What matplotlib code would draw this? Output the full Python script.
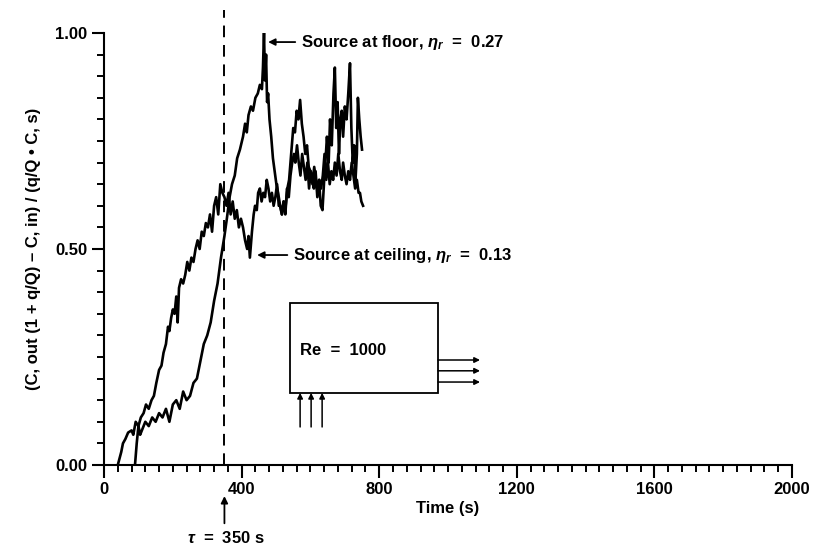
#!/usr/bin/env python3
"""Normalized exhaust concentration vs time, source at floor and at ceiling."""

import numpy as np
import matplotlib
matplotlib.use("Agg")
import matplotlib.pyplot as plt
from matplotlib.ticker import FixedLocator

plt.rcParams['font.family'] = ['Liberation Sans', 'DejaVu Sans']
plt.rcParams['font.weight'] = 'bold'
plt.rcParams['axes.labelweight'] = 'bold'
plt.rcParams['mathtext.fontset'] = 'custom'
plt.rcParams['mathtext.it'] = 'Liberation Sans:italic:bold'
plt.rcParams['mathtext.rm'] = 'Liberation Sans:bold'

# source at ceiling (eta_r = 0.13)
t_ceiling = [40, 50, 55, 62, 70, 80, 85, 92, 100, 107, 115, 122, 130, 138, 145, 152,
             160, 167, 173, 180, 186, 190, 195, 200, 205, 210, 214, 218, 224, 230,
             236, 242, 248, 254, 260, 266, 272, 278, 284, 290, 296, 302, 308, 314,
             320, 326, 332, 338, 344, 350, 356, 362, 368, 374, 380, 386, 392, 398,
             404, 410, 416, 420, 424, 430, 435, 439, 444, 448, 453, 458, 463, 468,
             473, 478, 483, 488, 493, 498, 503, 508, 512, 517, 522, 527, 532, 537,
             542, 547, 552, 556, 561, 566, 571, 576, 581, 586, 591, 596, 601, 606,
             611, 616, 621, 626, 631, 636, 641, 646, 651, 656, 661, 666, 671, 676,
             681, 686, 691, 695, 700, 705, 710, 715, 720, 725, 730, 735, 740, 744,
             748, 753]
c_ceiling = [0.00, 0.03, 0.05, 0.06, 0.075, 0.08, 0.07, 0.10, 0.09, 0.11, 0.12, 0.14,
             0.13, 0.15, 0.16, 0.19, 0.22, 0.23, 0.26, 0.28, 0.32, 0.31, 0.34, 0.36,
             0.35, 0.39, 0.33, 0.41, 0.43, 0.42, 0.44, 0.47, 0.45, 0.48, 0.47, 0.50,
             0.52, 0.50, 0.54, 0.53, 0.56, 0.55, 0.58, 0.54, 0.60, 0.62, 0.58, 0.65,
             0.63, 0.62, 0.60, 0.63, 0.58, 0.61, 0.57, 0.59, 0.55, 0.57, 0.55, 0.52,
             0.50, 0.53, 0.48, 0.54, 0.58, 0.60, 0.59, 0.63, 0.64, 0.61, 0.63, 0.62,
             0.66, 0.64, 0.61, 0.63, 0.60, 0.62, 0.65, 0.60, 0.60, 0.58, 0.61, 0.58,
             0.64, 0.62, 0.67, 0.70, 0.72, 0.70, 0.74, 0.70, 0.67, 0.72, 0.69, 0.66,
             0.70, 0.64, 0.68, 0.65, 0.69, 0.66, 0.63, 0.66, 0.64, 0.67, 0.72, 0.66,
             0.70, 0.65, 0.68, 0.66, 0.70, 0.67, 0.72, 0.68, 0.66, 0.70, 0.67, 0.65,
             0.68, 0.66, 0.70, 0.67, 0.64, 0.66, 0.63, 0.63, 0.61, 0.60]

# source at floor (eta_r = 0.27)
t_floor = [90, 95, 100, 105, 110, 120, 130, 140, 150, 160, 170, 180, 190, 200, 210,
           220, 230, 240, 250, 260, 270, 280, 290, 300, 310, 320, 330, 340, 350, 357,
           365, 372, 380, 387, 395, 404, 410, 415, 420, 427, 433, 440, 447, 453, 459,
           462, 465, 468, 471, 474, 477, 481, 486, 491, 496, 501, 506, 512, 517, 522,
           528, 533, 538, 544, 550, 555, 560, 565, 570, 575, 580, 585, 590, 595, 600,
           605, 610, 615, 620, 625, 630, 635, 640, 645, 648, 653, 657, 662, 667, 671,
           675, 679, 683, 687, 691, 695, 700, 705, 710, 715, 719, 723, 727, 731, 735,
           738, 742, 746, 750]
c_floor = [0.00, 0.05, 0.09, 0.07, 0.08, 0.10, 0.09, 0.11, 0.10, 0.12, 0.11, 0.13,
           0.10, 0.14, 0.15, 0.13, 0.17, 0.15, 0.16, 0.19, 0.20, 0.24, 0.28, 0.30,
           0.33, 0.38, 0.42, 0.48, 0.53, 0.57, 0.62, 0.65, 0.67, 0.71, 0.73, 0.76,
           0.79, 0.77, 0.81, 0.83, 0.82, 0.85, 0.86, 0.88, 0.87, 0.92, 1.00, 0.89,
           0.95, 0.84, 0.86, 0.80, 0.76, 0.71, 0.68, 0.65, 0.63, 0.60, 0.58, 0.61,
           0.60, 0.64, 0.66, 0.72, 0.78, 0.77, 0.82, 0.80, 0.845, 0.79, 0.76, 0.72,
           0.74, 0.69, 0.68, 0.66, 0.64, 0.68, 0.62, 0.66, 0.60, 0.59, 0.66, 0.72,
           0.76, 0.70, 0.80, 0.74, 0.86, 0.92, 0.78, 0.84, 0.72, 0.80, 0.82, 0.76,
           0.83, 0.80, 0.86, 0.93, 0.78, 0.70, 0.74, 0.66, 0.72, 0.85, 0.80, 0.76,
           0.73]

tau = 350

fig = plt.figure(figsize=(8.27, 5.48), dpi=100)
ax = fig.add_axes([0.1258, 0.1515, 0.8319, 0.7883])

ax.plot(t_ceiling, c_ceiling, color='black', lw=1.9)
ax.plot(t_floor, c_floor, color='black', lw=1.9)

# time constant marker
ax.plot([tau, tau], [0, 1.053], color='black', lw=1.4, ls=(0, (6, 4)), clip_on=False)
ax.annotate('', xy=(tau, -0.072), xytext=(tau, -0.135), xycoords='data',
            arrowprops=dict(arrowstyle='-|>', color='black', lw=1.3,
                            mutation_scale=10, shrinkA=0, shrinkB=0),
            annotation_clip=False)
ax.text(tau + 5, -0.17, r'$\tau$  =  350 s', ha='center', va='center',
        fontsize=12, clip_on=False)

# curve labels
ax.annotate(r'Source at floor, $\eta_r$  =  0.27', xy=(477, 0.979),
            xytext=(572, 0.979), va='center', fontsize=12,
            arrowprops=dict(arrowstyle='-|>', color='black', lw=1.3,
                            mutation_scale=10, shrinkA=2, shrinkB=0))
ax.annotate(r'Source at ceiling, $\eta_r$  =  0.13', xy=(445, 0.486),
            xytext=(549, 0.486), va='center', fontsize=12,
            arrowprops=dict(arrowstyle='-|>', color='black', lw=1.3,
                            mutation_scale=10, shrinkA=2, shrinkB=0))

# room sketch
ax.add_patch(plt.Rectangle((541, 0.167), 430, 0.208, fill=False, ec='black', lw=1.3))
ax.text(570, 0.266, 'Re  =  1000', ha='left', va='center', fontsize=12)
for y_out in [0.243, 0.218, 0.192]:
    ax.annotate('', xy=(1093, y_out), xytext=(971, y_out),
                arrowprops=dict(arrowstyle='-|>', color='black', lw=1.1,
                                mutation_scale=8, shrinkA=0, shrinkB=0))
for x_in in [570, 602, 634]:
    ax.annotate('', xy=(x_in, 0.167), xytext=(x_in, 0.088),
                arrowprops=dict(arrowstyle='-|>', color='black', lw=1.1,
                                mutation_scale=8, shrinkA=0, shrinkB=0))

ax.set_xlim(0, 2000)
ax.set_ylim(0, 1.0)
ax.xaxis.set_major_locator(FixedLocator([0, 400, 800, 1200, 1600, 2000]))
ax.xaxis.set_minor_locator(FixedLocator(np.arange(40, 2000, 40)))
ax.yaxis.set_major_locator(FixedLocator([0, 0.5, 1.0]))
ax.yaxis.set_minor_locator(FixedLocator(np.arange(0.05, 1.0, 0.05)))
ax.set_yticklabels(['0.00', '0.50', '1.00'])

for s in ['top', 'right']:
    ax.spines[s].set_visible(False)
for s in ['left', 'bottom']:
    ax.spines[s].set_linewidth(1.5)
ax.tick_params(which='major', direction='out', length=9, width=1.5, labelsize=12, pad=3)
ax.tick_params(which='minor', direction='out', length=5, width=1.4)

ax.set_xlabel('Time (s)', fontsize=12, labelpad=3)
ax.set_ylabel('(C, out (1 + q/Q) \u2013 C, in) / (q/Q \u2022 C, s)', fontsize=12, labelpad=10)

plt.savefig('out.png', dpi=100)
